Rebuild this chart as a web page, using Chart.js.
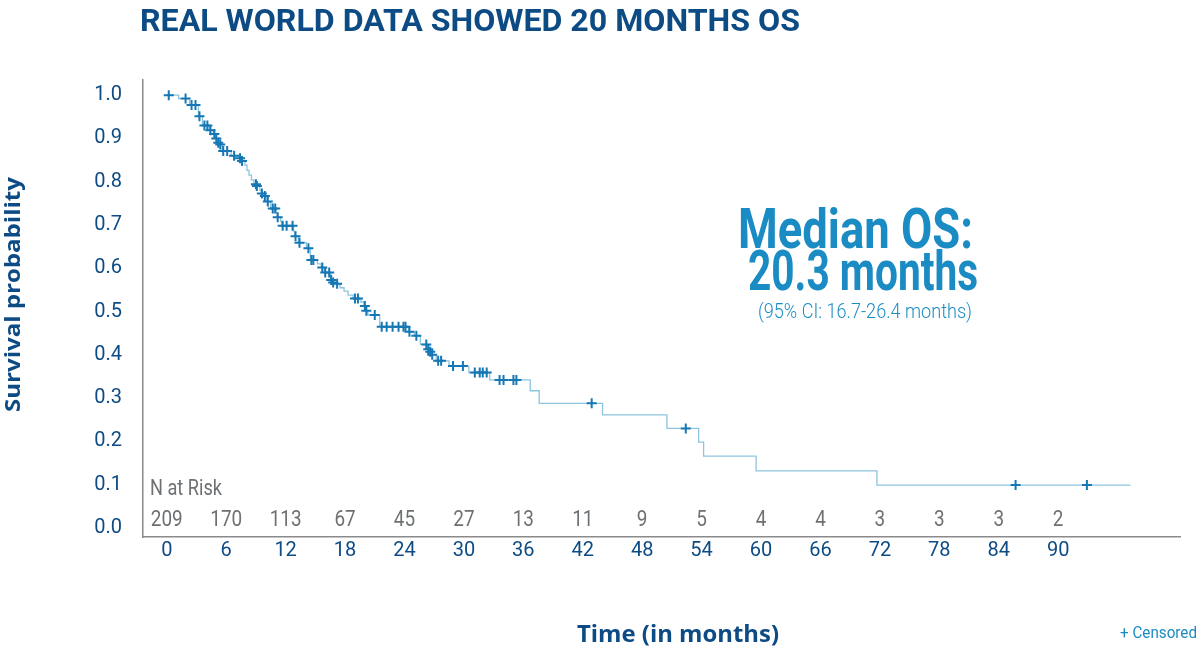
<!DOCTYPE html>
<html>
<head>
<meta charset="utf-8">
<script src="https://cdn.jsdelivr.net/npm/chart.js@4"></script>
<style>
  html, body { margin: 0; padding: 0; background: #fff; }
</style>
</head>
<body>
<canvas id="kmChart" width="1200" height="649"></canvas>
<script>
// KM step points: time (months) and survival after the step
const stepTimes = [0, 1.2, 2.3, 3.2, 3.6, 4.3, 4.7, 4.95, 5.15, 5.3, 5.6, 6.5, 7.2, 7.55, 7.9, 8.1, 8.3, 8.55, 8.8, 9.05,
  9.4, 9.55, 9.8, 10.1, 10.5, 11.05, 11.15, 11.5, 11.6, 12.8, 12.9, 13.3, 14.1, 14.5, 15.2, 15.6, 15.9, 16.55, 16.75, 17.1,
  17.5, 17.9, 18.3, 18.8, 19.6, 19.9, 20.1, 20.3, 21.5, 24.4, 25.0, 25.6, 26.35, 26.55, 26.7, 27.2, 28.5, 30.5, 32.6, 36.7,
  37.6, 44.0, 50.5, 53.7, 54.2, 59.5, 71.7, 97.3];
const stepSurv = [1.0, 0.992, 0.977, 0.951, 0.930, 0.919, 0.910, 0.900, 0.890, 0.886, 0.871, 0.860, 0.854, 0.848, 0.838, 0.826, 0.815, 0.804, 0.794, 0.790,
  0.780, 0.773, 0.767, 0.754, 0.738, 0.728, 0.718, 0.708, 0.698, 0.686, 0.674, 0.659, 0.646, 0.619, 0.610, 0.602, 0.590, 0.573, 0.567, 0.564,
  0.555, 0.547, 0.538, 0.530, 0.522, 0.513, 0.502, 0.492, 0.465, 0.453, 0.444, 0.424, 0.413, 0.407, 0.400, 0.386, 0.374, 0.359, 0.342, 0.317,
  0.288, 0.261, 0.230, 0.198, 0.166, 0.132, 0.099, 0.099];

// censored observations
const censorTimes = [0.2, 1.9, 2.5, 2.9, 3.3, 3.8, 4.1, 4.4, 4.8, 5.0, 5.2, 5.4, 5.7, 6.1, 6.8, 7.4, 7.6, 9.0, 9.1, 9.6,
  9.9, 10.2, 10.7, 10.95, 11.2, 11.7, 12.1, 12.7, 13.0, 13.4, 14.3, 14.6, 14.8, 15.7, 16.0, 16.4, 16.6, 16.8, 17.2, 19.0,
  19.3, 20.0, 20.15, 21.0, 21.7, 22.2, 22.8, 23.4, 23.9, 24.1, 24.5, 25.2, 26.2, 26.4, 26.6, 26.8, 27.4, 27.7, 28.9, 29.9,
  31.1, 31.6, 31.9, 32.3, 33.6, 34.0, 35.0, 35.3, 42.9, 52.4, 85.7, 92.9];
const censorSurv = [1.0, 0.992, 0.977, 0.977, 0.951, 0.930, 0.930, 0.919, 0.910, 0.900, 0.890, 0.886, 0.871, 0.871, 0.860, 0.854, 0.848, 0.794, 0.790, 0.773,
  0.767, 0.754, 0.738, 0.738, 0.718, 0.698, 0.698, 0.698, 0.674, 0.659, 0.646, 0.619, 0.619, 0.602, 0.590, 0.590, 0.573, 0.567, 0.564, 0.530,
  0.530, 0.513, 0.502, 0.492, 0.465, 0.465, 0.465, 0.465, 0.465, 0.465, 0.453, 0.444, 0.424, 0.413, 0.407, 0.400, 0.386, 0.386, 0.374, 0.374,
  0.359, 0.359, 0.359, 0.359, 0.342, 0.342, 0.342, 0.342, 0.288, 0.230, 0.099, 0.099];

const xTicks = [0, 6, 12, 18, 24, 30, 36, 42, 48, 54, 60, 66, 72, 78, 84, 90];
const yTicks = [0, 0.1, 0.2, 0.3, 0.4, 0.5, 0.6, 0.7, 0.8, 0.9, 1.0];
const nAtRisk = [209, 170, 113, 67, 45, 27, 13, 11, 9, 5, 4, 4, 3, 3, 3, 2];

const navy = '#0d4b84';
const brightBlue = '#1b8bc3';
const grey = '#6e7174';
const font = 'Roboto, "Open Sans", sans-serif';
const humanist = '"Open Sans", "Noto Sans", sans-serif';

// draw text stretched or squeezed to a given width (the original face is Frutiger)
function fitText(ctx, text, x, y, w, align) {
    const m = ctx.measureText(text).width;
    const x0 = align === 'right' ? x - w : (align === 'center' ? x - w / 2 : x);
    ctx.save();
    ctx.textAlign = 'left';
    ctx.translate(x0, y);
    ctx.scale(w / m, 1);
    ctx.fillText(text, 0, 0);
    ctx.restore();
}

// draws titles, median annotation and the number-at-risk row
const textPlugin = {
    id: 'kmText',
    afterDraw(chart) {
        const ctx = chart.ctx;
        const xs = chart.scales.x;
        const ys = chart.scales.y;
        ctx.save();
        ctx.textBaseline = 'alphabetic';

        // main title
        ctx.fillStyle = navy;
        ctx.font = 'bold 32px ' + font;
        fitText(ctx, 'REAL WORLD DATA SHOWED 20 MONTHS OS', 140, 31, 660, 'left');

        // y axis title
        ctx.save();
        ctx.translate(20, 294.5);
        ctx.rotate(-Math.PI / 2);
        ctx.font = 'bold 21px ' + humanist;
        fitText(ctx, 'Survival probability', 0, 0, 235, 'center');
        ctx.restore();

        // x axis title
        ctx.font = 'bold 24px ' + humanist;
        fitText(ctx, 'Time (in months)', 678, 642, 202, 'center');

        // censored legend
        ctx.fillStyle = brightBlue;
        ctx.font = '16px ' + font;
        fitText(ctx, '+ Censored', 1197, 638, 77, 'right');

        // median OS annotation
        ctx.font = 'bold 56px ' + font;
        fitText(ctx, 'Median OS:', 973, 248, 235, 'right');
        fitText(ctx, '20.3 months', 978, 290, 230, 'right');
        ctx.font = '300 20px ' + font;
        fitText(ctx, '(95% CI: 16.7-26.4 months)', 972, 318, 214, 'right');

        // number at risk
        ctx.fillStyle = grey;
        ctx.font = '22px ' + font;
        fitText(ctx, 'N at Risk', xs.left + 7, ys.getPixelForValue(0.076), 72, 'left');
        ctx.textAlign = 'center';
        xTicks.forEach((t, i) => {
            ctx.save();
            ctx.translate(xs.getPixelForValue(t), ys.getPixelForValue(0.005));
            ctx.scale(0.86, 1);
            ctx.fillText(String(nAtRisk[i]), 0, 0);
            ctx.restore();
        });
        ctx.restore();
    }
};

const ctx = document.getElementById('kmChart').getContext('2d');
new Chart(ctx, {
    type: 'line',
    data: {
        datasets: [
            {
                label: 'Survival',
                data: stepTimes.map((t, i) => ({x: t, y: stepSurv[i]})),
                borderColor: '#8cc5dd',
                borderWidth: 1.3,
                stepped: 'before',
                pointRadius: 0,
                fill: false,
                order: 2
            },
            {
                label: 'Censored',
                data: censorTimes.map((t, i) => ({x: t, y: censorSurv[i]})),
                showLine: false,
                pointStyle: 'cross',
                pointRadius: 5,
                pointBorderWidth: 2,
                pointBorderColor: '#1577b3',
                pointBackgroundColor: '#1577b3',
                order: 1
            }
        ]
    },
    options: {
        responsive: false,
        animation: false,
        layout: { padding: { left: 0, right: 20, top: 80, bottom: 0 } },
        plugins: {
            legend: { display: false },
            tooltip: { enabled: false }
        },
        scales: {
            x: {
                type: 'linear',
                min: -2.4,
                max: 102.3,
                afterBuildTicks: (scale) => { scale.ticks = xTicks.map(v => ({value: v})); },
                afterFit: (scale) => { scale.height = 112; },
                grid: { display: true, color: 'rgba(0,0,0,0)', drawTicks: false },
                border: { display: true, color: '#8a8a8a', width: 1.5 },
                ticks: {
                    color: navy,
                    padding: 2,
                    maxRotation: 0,
                    autoSkip: false,
                    font: { size: 20, family: font }
                }
            },
            y: {
                min: -0.021,
                max: 1.035,
                afterBuildTicks: (scale) => { scale.ticks = yTicks.map(v => ({value: v})); },
                afterFit: (scale) => { scale.width = 143; },
                grid: { display: true, color: 'rgba(0,0,0,0)', drawTicks: false },
                border: { display: true, color: '#8a8a8a', width: 1.5 },
                ticks: {
                    color: navy,
                    padding: 21,
                    callback: (v) => Number(v).toFixed(1),
                    font: { size: 20, family: font }
                }
            }
        }
    },
    plugins: [textPlugin]
});
</script>
</body>
</html>
